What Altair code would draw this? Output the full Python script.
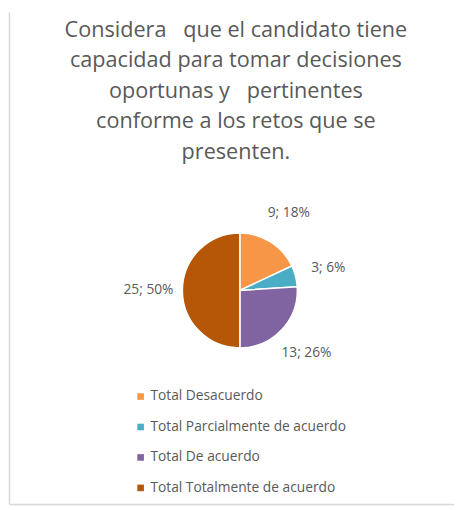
import altair as alt
import pandas as pd

categories = ["Total Desacuerdo", "Total Parcialmente de acuerdo", "Total De acuerdo", "Total Totalmente de acuerdo"]
values = [9, 3, 13, 25]
colors = ["#F79646", "#4BACC6", "#8064A2", "#B65708"]
title_lines = [
    "Considera\u00a0\u00a0\u00a0que el candidato tiene",
    "capacidad para tomar decisiones",
    "oportunas y\u00a0\u00a0\u00a0pertinentes",
    "conforme a los retos que se",
    "presenten.",
]

total = sum(values)
df = pd.DataFrame({
    "cat": categories,
    "val": values,
    "idx": list(range(len(values))),
    "label": [f"{v}; {round(100 * v / total)}%" for v in values],
})

FONT = "Open Sans"
GREY = "#595959"
CX, CY, R = 236, 283, 58.5

base = alt.Chart(df).encode(
    theta=alt.Theta("val:Q", stack=True),
    order=alt.Order("idx:Q"),
)

pie = base.mark_arc(radius=R, stroke="white", strokeWidth=1.5).encode(
    x=alt.value(CX), y=alt.value(CY),
    color=alt.Color(
        "cat:N",
        scale=alt.Scale(domain=categories, range=colors),
        sort=categories,
        legend=alt.Legend(
            title=None, orient="none", legendX=128, legendY=384,
            symbolType="square", symbolSize=45, symbolStrokeWidth=0,
            labelFont=FONT, labelFontSize=14, labelColor=GREY, labelLimit=400,
            rowPadding=17, labelOffset=3, padding=0,
        ),
    ),
)

labels = base.mark_text(radius=93, font=FONT, fontSize=14, color=GREY).encode(
    x=alt.value(CX), y=alt.value(CY), text="label:N",
)

title = alt.Chart(pd.DataFrame({"t": ["\n".join(title_lines)]})).mark_text(
    font=FONT, fontSize=22, color=GREY, lineBreak="\n", lineHeight=31,
    align="center", baseline="alphabetic",
).encode(x=alt.value(232), y=alt.value(25), text="t:N")

border_left = alt.Chart(pd.DataFrame({"a": [0]})).mark_rule(color="#D9D9D9", strokeWidth=1.5).encode(
    x=alt.value(1.5), y=alt.value(0), y2=alt.value(501)
)
border_bottom = alt.Chart(pd.DataFrame({"a": [0]})).mark_rule(color="#D9D9D9", strokeWidth=1.5).encode(
    x=alt.value(1.5), x2=alt.value(454), y=alt.value(501)
)

chart = alt.layer(border_left, border_bottom, pie, labels, title).properties(
    width=454, height=502, padding=0,
    autosize=alt.AutoSizeParams(type="none"),
).configure_view(stroke=None)

chart.save("out.html", embed_options={"renderer": "svg", "actions": False})
